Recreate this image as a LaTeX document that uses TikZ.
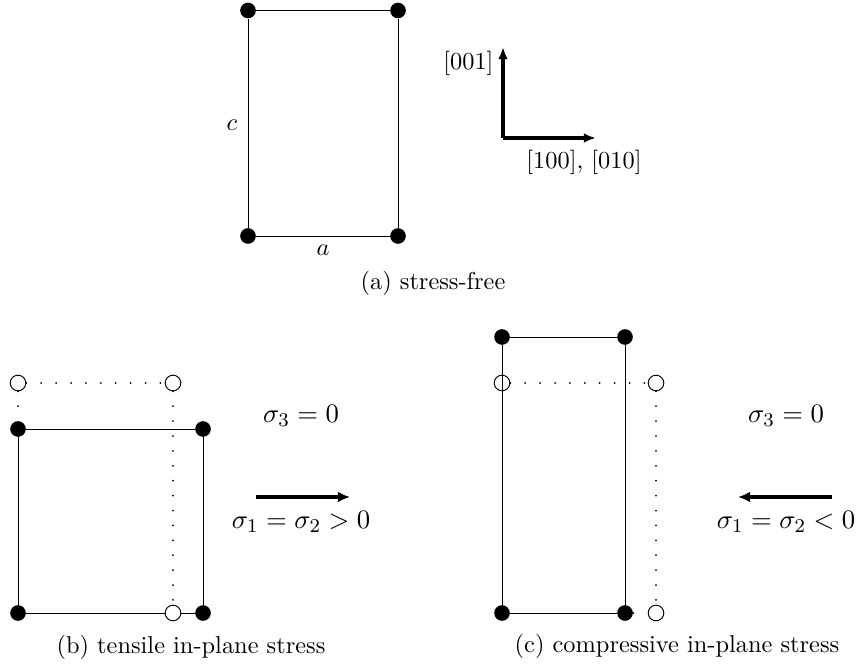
\documentclass[tikz,border=0pt]{standalone}
\usetikzlibrary{arrows.meta}
\begin{document}
\begin{tikzpicture}[x=0.41pt,y=-0.41pt,
  full/.style={circle,fill=black,inner sep=0pt,minimum size=6.4pt},
  hollow/.style={circle,draw=black,fill=white,inner sep=0pt,minimum size=6.4pt,line width=0.4pt},
  hollowopen/.style={circle,draw=black,inner sep=0pt,minimum size=6.4pt,line width=0.4pt},
  edge/.style={line width=0.4pt},
  dotline/.style={line width=0.8pt,dash pattern=on 0.01pt off 6.1pt,line cap=round},
  axis/.style={line width=1.3pt,-{Latex[length=5pt,width=4pt]}},
  force/.style={line width=1.7pt,-{Latex[length=5pt,width=4.5pt]}},
  lbl/.style={inner sep=0pt,font=\fontsize{11.3}{13}\selectfont},
  captext/.style={inner sep=0pt}]
\useasboundingbox (0,0) rectangle (858,666);
% ---------------- (a) stress-free
\node[full] (a1) at (248,10.5) {};
\node[full] (a2) at (398,10.5) {};
\node[full] (a3) at (398,236) {};
\node[full] (a4) at (248,236) {};
\draw[edge] (a1) -- (a2) -- (a3) -- (a4) -- (a1);
\node[inner sep=0pt] (lc) at (232,125) {$c$};
\node[inner sep=0pt] (la) at (323,250) {$a$};
\node[captext] (capa) at (433,283) {(a) stress-free};
% axes
\coordinate (o) at (503,138);
\coordinate (zt) at (503,47);
\coordinate (xt) at (596,138);
\draw[axis] (o) -- (zt);
\draw[axis] (o) -- (xt);
\node[inner sep=0pt,anchor=east] (l001) at (494,63) {$[001]$};
\node[inner sep=0pt] (l100) at (584,162) {$[100]$, $[010]$};
% ---------------- (b) tensile
\node[hollow] (b5) at (18,383) {};
\node[hollow] (b6) at (173,383) {};
\node[hollow] (b7) at (173,613) {};
\node[full] (b1) at (18,429) {};
\node[full] (b2) at (203,429) {};
\node[full] (b3) at (203,613) {};
\node[full] (b4) at (18,613) {};
\draw[dotline] (b5) -- (b6);
\draw[dotline] (b5) -- (b1);
\draw[dotline] (b6) -- (b7);
\draw[edge] (b1) -- (b2) -- (b3) -- (b7) -- (b4) -- (b1);
\node[lbl] (bs3) at (301,416) {$\sigma_3=0$};
\coordinate (bf1) at (256,497);
\coordinate (bf2) at (350,497);
\draw[force] (bf1) -- (bf2);
\node[lbl] (bs1) at (301,522) {$\sigma_1=\sigma_2>0$};
\node[captext] (capb) at (191,647) {(b) tensile in-plane stress};
% ---------------- (c) compressive
\node[hollowopen] (c5) at (502,383) {};
\node[hollow] (c6) at (656,383) {};
\node[hollow] (c7) at (656,613) {};
\node[full] (c1) at (502,337) {};
\node[full] (c2) at (625,337) {};
\node[full] (c3) at (625,613) {};
\node[full] (c4) at (502,613) {};
\draw[dotline] (c5) -- (c6);
\draw[dotline] (c6) -- (c7);
\draw[dotline] (c3) -- (c7);
\draw[edge] (c1) -- (c2) -- (c3) -- (c4) -- (c1);
\node[lbl] (cs3) at (786,416) {$\sigma_3=0$};
\coordinate (cf1) at (832,497);
\coordinate (cf2) at (738,497);
\draw[force] (cf1) -- (cf2);
\node[lbl] (cs1) at (786,522) {$\sigma_1=\sigma_2<0$};
\node[captext] (capc) at (677,646) {(c) compressive in-plane stress};
\end{tikzpicture}
\end{document}
